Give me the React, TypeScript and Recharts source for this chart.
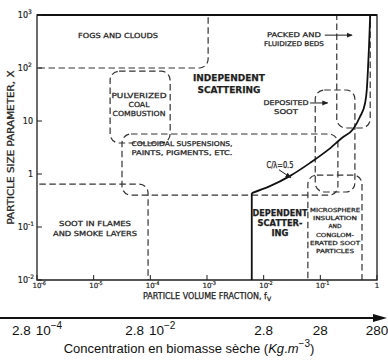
import React from "react";
import {
  ComposedChart,
  Line,
  XAxis,
  YAxis,
  ReferenceArea,
  ReferenceLine,
  ReferenceDot,
} from "recharts";

// both axes are log10: x = log10(fv), y = log10(size parameter)
const FV_TICKS = [-6, -5, -4, -3, -2, -1, 0];
const FV_TICK_TEXT = [["10", "-6"], ["10", "-5"], ["10", "-4"], ["10", "-3"], ["10", "-2"], ["10", "-1"], ["1", ""]];
const SIZE_TICKS = [-2, -1, 0, 1, 2, 3];
const SIZE_TICK_TEXT = [["10", "-2"], ["10", "-1"], ["1", ""], ["10", ""], ["10", "2"], ["10", "3"]];
const CONC_TICKS = [-6, -4, -2, -1, 0];
const CONC_TICK_TEXT = [["2.8", "10", "−4"], ["2.8", "10", "−2"], ["2.8", "", ""], ["28", "", ""], ["280", "", ""]];

// dependent / independent limit: fv = 0.006 then c/λ = 0.5
const WALL_FV = [-2.21, -2.21];
const WALL_X = [-2, -0.36];
const CURVE_FV = [-2.21, -1.89, -1.54, -1.18, -0.87, -0.62, -0.42, -0.3, -0.21, -0.18, -0.16, -0.14, -0.12];
const CURVE_X = [-0.36, -0.23, -0.04, 0.21, 0.45, 0.68, 0.85, 1.08, 1.34, 1.59, 1.96, 2.43, 3.0];

// regimes drawn as dashed rounded boxes [fv1, fv2, x1, x2] (open ones run past the frame)
const REGION_NAMES = ["fogs", "coal", "colloid", "soot", "beds", "deposit", "micro"];
const REGION_FV = [[-7, -2.98], [-4.71, -3.65], [-4.5, -0.69], [-7, -4.04], [-0.71, -0.12], [-1.09, -0.39], [-1.22, -0.265]];
const REGION_X = [[2.0, 4], [0.585, 1.94], [-0.4, 0.755], [-3, -0.19], [0.868, 4], [-0.34, 1.585], [-3, -0.02]];

const wall = WALL_FV.map((fv, i) => ({ fv, x: WALL_X[i] }));
const curve = CURVE_FV.map((fv, i) => ({ fv, x: CURVE_X[i] }));

const INK = "#1e1e1e";
const LETTER = "DejaVu Sans, sans-serif";
const LATEX = "Liberation Sans, Arial, sans-serif";

const roundBox = (p: any) => (
  <rect
    x={p.x}
    y={p.y}
    width={p.width}
    height={p.height}
    rx={9}
    ry={9}
    fill="none"
    stroke="#333"
    strokeWidth={1.2}
    strokeDasharray="6.5 3.5"
    clipPath={p.clipPath}
  />
);

const FvTick = (p: any) => {
  const i = FV_TICKS.indexOf(p.payload.value);
  const [base, exp] = FV_TICK_TEXT[i];
  return (
    <g fontFamily={LETTER} fill={INK} stroke={INK} strokeWidth={0.2}>
      <line x1={p.x} y1={p.y} x2={p.x} y2={p.y - 5} strokeWidth={1} />
      <text x={p.x} y={p.y + 8} textAnchor="middle" fontSize={7}>{base}</text>
      {exp && <text x={p.x + 4} y={p.y + 5} fontSize={5}>{exp}</text>}
    </g>
  );
};

const SizeTick = (p: any) => {
  const i = SIZE_TICKS.indexOf(p.payload.value);
  const [base, exp] = SIZE_TICK_TEXT[i];
  return (
    <g fontFamily={LETTER} fill={INK} stroke={INK} strokeWidth={0.2}>
      <line x1={p.x} y1={p.y} x2={p.x + 5} y2={p.y} strokeWidth={1} />
      <text x={exp ? p.x - 9 : p.x - 4} y={p.y + 3} textAnchor="end" fontSize={8}>{base}</text>
      {exp && <text x={p.x - 9} y={p.y - 1} fontSize={6}>{exp}</text>}
    </g>
  );
};

const ConcTick = (p: any) => {
  const i = CONC_TICKS.indexOf(p.payload.value);
  const [mant, pow, exp] = CONC_TICK_TEXT[i];
  return (
    <text x={p.x} y={p.y + 18} textAnchor="middle" fontFamily={LATEX} fontSize={13.5} fill="#111">
      {mant}
      {pow && <tspan dx={5}>{pow}</tspan>}
      {exp && <tspan dy={-6} fontSize={10}>{exp}</tspan>}
    </text>
  );
};

const note =
  (lines: [string, number][], size: number, lh: number, bold = false) =>
  (p: any) => {
    const { x, y, width, height } = p.viewBox;
    const cx = x + width / 2;
    const top = y + height / 2 - ((lines.length - 1) * lh) / 2 + size * 0.36;
    return (
      <g fontFamily={LETTER} fontSize={size} fontWeight={bold ? 700 : 400} fill={INK} stroke={INK} strokeWidth={0.25}>
        {lines.map(([t, w], i) => (
          <text key={i} x={cx} y={top + i * lh} textAnchor="middle" textLength={w} lengthAdjust="spacingAndGlyphs">
            {t}
          </text>
        ))}
      </g>
    );
  };

const SizeLabel = (p: any) => {
  const { y, height } = p.viewBox;
  const cy = y + height / 2;
  return (
    <text
      x={14}
      y={cy}
      transform={`rotate(-90 14 ${cy})`}
      textAnchor="middle"
      fontFamily={LETTER}
      fontSize={8}
      fill={INK}
      stroke={INK}
      strokeWidth={0.25}
      textLength={154}
      lengthAdjust="spacingAndGlyphs"
    >
      PARTICLE SIZE PARAMETER, X
    </text>
  );
};

const FvLabel = (p: any) => {
  const { x, y, width } = p.viewBox;
  return (
    <text x={x + width / 2} y={y + 19} textAnchor="middle" fontFamily={LETTER} fontSize={8} fill={INK} stroke={INK} strokeWidth={0.25}>
      PARTICLE VOLUME FRACTION, f<tspan fontSize={6} dy={2}>V</tspan>
    </text>
  );
};

const ConcLabel = (p: any) => {
  const { x, y, width } = p.viewBox;
  const end = x + width + 10;
  return (
    <g>
      <line x1={x - 37} y1={y + 1} x2={end - 12} y2={y + 1} stroke="#111" strokeWidth={1.8} />
      <polygon points={`${end - 14},${y - 3} ${end},${y + 1} ${end - 14},${y + 5}`} fill="#111" />
      <text x={x + width / 2 - 18} y={y + 36} textAnchor="middle" fontFamily={LATEX} fontSize={13} fill="#111">
        Concentration en biomasse sèche (<tspan fontStyle="italic">Kg</tspan>.<tspan fontStyle="italic">m</tspan>
        <tspan dy={-6} fontSize={10}>−3</tspan>
        <tspan dy={6}>)</tspan>
      </text>
    </g>
  );
};

export default function App() {
  return (
    <div style={{ position: "absolute", left: 0, top: 0, width: 388, height: 360, background: "#fff" }}>
      <svg width={0} height={0} style={{ position: "absolute" }}>
        <defs>
          <marker id="ah" viewBox="0 0 10 10" refX="9" refY="5" markerWidth="6" markerHeight="6" orient="auto">
            <path d="M0,1 L10,5 L0,9 z" fill={INK} />
          </marker>
        </defs>
      </svg>
      <ComposedChart width={388} height={360} margin={{ top: 15, right: 11, bottom: 0, left: 0 }}>
        <XAxis
          dataKey="fv"
          type="number"
          domain={[-6, 0]}
          allowDataOverflow
          ticks={FV_TICKS}
          interval={0}
          tick={<FvTick />}
          tickLine={false}
          tickSize={0}
          tickMargin={0}
          axisLine={false}
          height={37}
          label={<FvLabel />}
        />
        <XAxis
          xAxisId="conc"
          dataKey="fv"
          type="number"
          domain={[-6, 0]}
          allowDataOverflow
          ticks={CONC_TICKS}
          interval={0}
          tick={<ConcTick />}
          tickLine={false}
          tickSize={0}
          tickMargin={0}
          axisLine={false}
          height={43}
          label={<ConcLabel />}
        />
        <YAxis
          dataKey="x"
          type="number"
          domain={[-2, 3]}
          allowDataOverflow
          ticks={SIZE_TICKS}
          interval={0}
          tick={<SizeTick />}
          tickLine={false}
          tickSize={0}
          tickMargin={0}
          axisLine={false}
          width={37}
          label={<SizeLabel />}
        />

        {REGION_NAMES.map((name, i) => (
          <ReferenceArea
            key={name}
            x1={REGION_FV[i][0]}
            x2={REGION_FV[i][1]}
            y1={REGION_X[i][0]}
            y2={REGION_X[i][1]}
            ifOverflow="hidden"
            shape={roundBox}
          />
        ))}

        <ReferenceArea x1={-6} x2={0} y1={-2} y2={3} fill="none" stroke={INK} strokeWidth={1.3} ifOverflow="visible" />
        <ReferenceLine y={3} stroke="#111" strokeWidth={2} />

        {/* same wall again on the concentration axis, invisible, so that axis gets its ticks */}
        <Line xAxisId="conc" data={wall} dataKey="x" stroke="none" dot={false} isAnimationActive={false} />
        <Line data={wall} dataKey="x" type="linear" stroke="#111" strokeWidth={1.8} dot={false} isAnimationActive={false} />
        <Line data={curve} dataKey="x" type="monotoneX" stroke="#111" strokeWidth={1.8} dot={false} isAnimationActive={false} />

        <ReferenceLine segment={[{ x: -0.92, y: 2.62 }, { x: -0.44, y: 2.62 }]} stroke={INK} strokeWidth={1} markerEnd="url(#ah)" />
        <ReferenceLine segment={[{ x: -1.18, y: 1.34 }, { x: -0.87, y: 1.34 }]} stroke={INK} strokeWidth={1} markerEnd="url(#ah)" />
        <ReferenceLine segment={[{ x: -1.73, y: 0.08 }, { x: -1.52, y: -0.07 }]} stroke={INK} strokeWidth={1} markerEnd="url(#ah)" />

        <ReferenceDot x={-4.571} y={2.623} r={0} fill="none" stroke="none" label={note([["FOGS AND CLOUDS", 80]], 7, 9)} />
        <ReferenceDot x={-4.2} y={1.321} r={0} fill="none" stroke="none" label={note([["PULVERIZED", 55], ["COAL", 21], ["COMBUSTION", 53]], 7, 9)} />
        <ReferenceDot x={-2.612} y={1.698} r={0} fill="none" stroke="none" label={note([["INDEPENDENT", 72], ["SCATTERING", 63]], 9.5, 12, true)} />
        <ReferenceDot x={-1.465} y={2.538} r={0} fill="none" stroke="none" label={note([["PACKED AND", 54], ["FLUIDIZED BEDS", 60]], 6.5, 9)} />
        <ReferenceDot x={-1.606} y={1.255} r={0} fill="none" stroke="none" label={note([["DEPOSITED", 45], ["SOOT", 24]], 6.5, 9)} />
        <ReferenceDot x={-3.441} y={0.481} r={0} fill="none" stroke="none" label={note([["COLLOIDAL SUSPENSIONS,", 101], ["PAINTS, PIGMENTS, ETC.", 101]], 6.5, 9)} />
        <ReferenceDot x={-1.712} y={0.17} r={0} fill="none" stroke="none" label={note([["C/λ=0.5", 27]], 8, 9)} />
        <ReferenceDot x={-4.976} y={-1.019} r={0} fill="none" stroke="none" label={note([["SOOT IN FLAMES", 72], ["AND SMOKE LAYERS", 84]], 7, 10)} />
        <ReferenceDot x={-1.712} y={-0.925} r={0} fill="none" stroke="none" label={note([["DEPENDENT", 55], ["SCATTER-", 45], ["ING", 17]], 8, 10, true)} />
        <ReferenceDot
          x={-0.741}
          y={-1.066}
          r={0}
          fill="none"
          stroke="none"
          label={note(
            [["MICROSPHERE", 50], ["INSULATION", 44], ["AND", 13], ["CONGLOM-", 38], ["ERATED SOOT", 50], ["PARTICLES", 38]],
            5.5,
            8.2
          )}
        />
      </ComposedChart>
    </div>
  );
}
